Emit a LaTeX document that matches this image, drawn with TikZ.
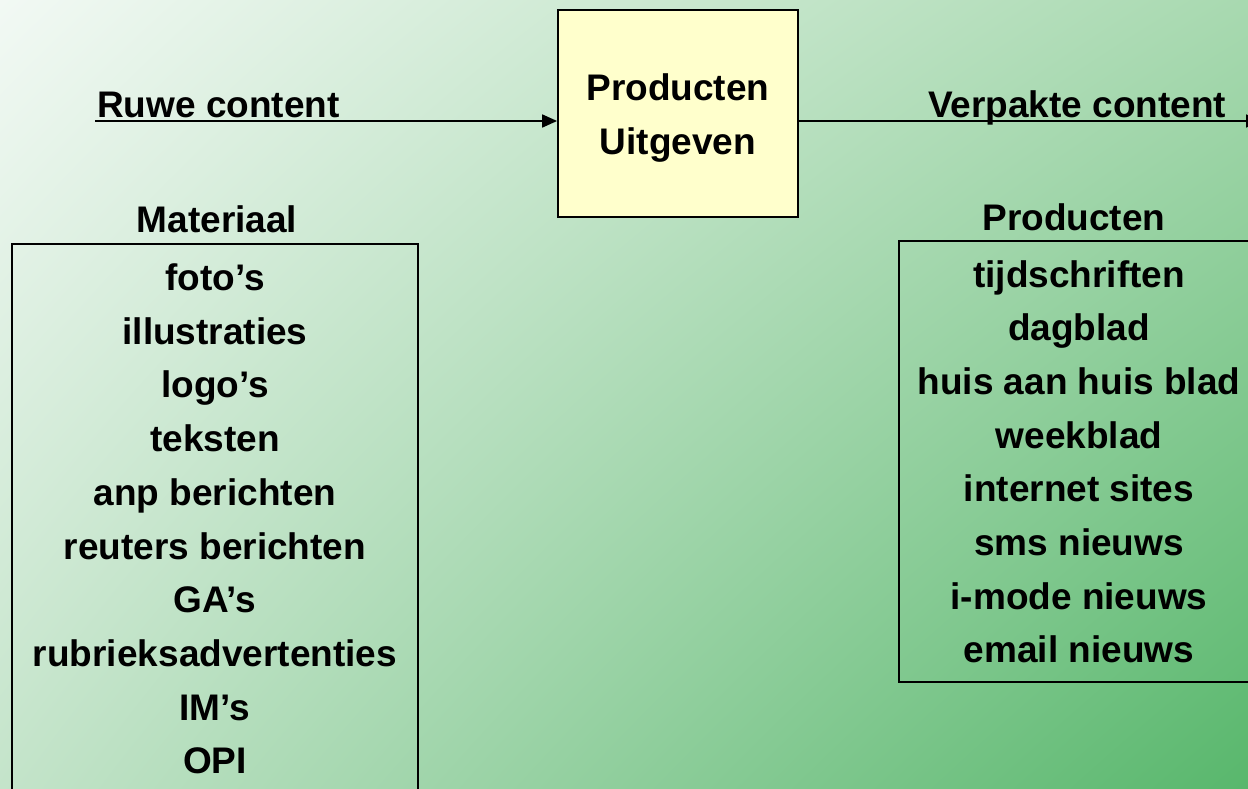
\documentclass[tikz,border=0pt]{standalone}
\usepackage{fontspec}
\setmainfont{Liberation Sans}
\usetikzlibrary{arrows.meta,shadings}

\definecolor{bgTL}{HTML}{F2F9F4}
\definecolor{bgTR}{HTML}{A8D9B0}
\definecolor{bgBL}{HTML}{C4E4CA}
\definecolor{bgBR}{HTML}{58B76C}
\definecolor{procfill}{HTML}{FFFFCC}

\tikzset{
  lbl/.style={font=\fontsize{37}{44}\selectfont\bfseries, inner sep=0pt},
  frame/.style={draw=black, line width=1.8pt},
  conn/.style={draw=black, line width=1.8pt,
    -{Triangle[length=15pt,width=13pt]}},
}

\begin{document}
\begin{tikzpicture}[x=1pt,y=-1pt]
\useasboundingbox (0,0) rectangle (1248,789);

% background gradient
\shade[upper left=bgTL, upper right=bgTR, lower left=bgBL, lower right=bgBR]
  (0,0) rectangle (1248,789);

% central process
\node[frame, fill=procfill, minimum width=240pt, minimum height=207pt,
      inner sep=0pt] (proc) at (678,113.5) {};
\node[lbl, anchor=base] (procA) at (678,101) {Producten};
\node[lbl, anchor=base] (procB) at (678,155) {Uitgeven};

% input and output flows
\coordinate (rawin) at (95,121);
\coordinate (rawout) at (1261,121);
\draw[conn] (rawin) -- (rawin -| proc.west);
\draw[conn] (rawout -| proc.east) -- (rawout);
\node[lbl, anchor=base west] (rawlbl) at (97,118) {Ruwe content};
\node[lbl, anchor=base west] (outlbl) at (928,118) {Verpakte content};

% material list
\node[lbl, anchor=base] (mathead) at (217,232) {Materiaal};
\draw[frame] (12,244) rectangle (418,800);
\foreach \t [count=\i] in {foto’s, illustraties, logo’s, teksten,
    anp berichten, reuters berichten, GA’s, rubrieksadvertenties, IM’s, OPI}
  \node[lbl, anchor=base] (mat\i) at (215,{290.5+(\i-1)*53.7}) {\t};

% product list
\node[lbl, anchor=base] (prodhead) at (1074,230) {Producten};
\draw[frame] (899,241) rectangle (1270,682);
\foreach \t [count=\i] in {tijdschriften, dagblad, huis aan huis blad,
    weekblad, internet sites, sms nieuws, i-mode nieuws, email nieuws}
  \node[lbl, anchor=base] (prod\i) at (1079,{287+(\i-1)*53.7}) {\t};
\end{tikzpicture}
\end{document}
